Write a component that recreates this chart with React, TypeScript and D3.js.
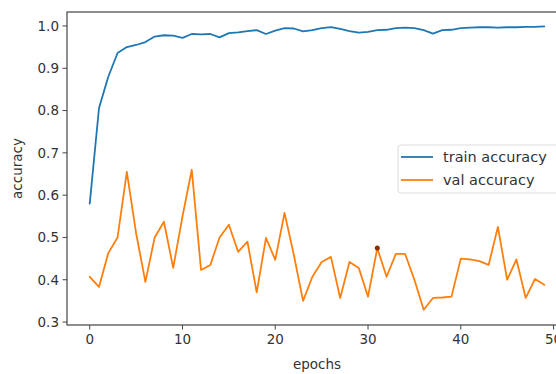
import React from 'react'
import * as d3 from 'd3'

const epochs = d3.range(50)

const trainAcc = [
  0.58, 0.806, 0.88, 0.936, 0.95, 0.955, 0.962, 0.975, 0.978, 0.977,
  0.972, 0.981, 0.98, 0.981, 0.973, 0.983, 0.985, 0.988, 0.99, 0.981,
  0.989, 0.995, 0.994, 0.987, 0.99, 0.995, 0.997, 0.993, 0.988, 0.984,
  0.986, 0.99, 0.991, 0.995, 0.996, 0.995, 0.99, 0.982, 0.99, 0.991,
  0.995, 0.996, 0.997, 0.997, 0.996, 0.997, 0.997, 0.998, 0.998, 0.999,
]

const valAcc = [
  0.407, 0.383, 0.463, 0.5, 0.655, 0.51, 0.395, 0.5, 0.537, 0.428,
  0.55, 0.66, 0.423, 0.435, 0.5, 0.53, 0.466, 0.49, 0.37, 0.499,
  0.447, 0.558, 0.459, 0.35, 0.407, 0.442, 0.454, 0.357, 0.442, 0.428,
  0.36, 0.475, 0.407, 0.461, 0.461, 0.4, 0.329, 0.357, 0.358, 0.36,
  0.45, 0.448, 0.444, 0.435, 0.525, 0.4, 0.448, 0.357, 0.402, 0.388,
]

const highlightEpoch = 31

const xTicks = [0, 10, 20, 30, 40, 50]
const yTicks = [0.3, 0.4, 0.5, 0.6, 0.7, 0.8, 0.9, 1.0]

const seriesNames = ['train accuracy', 'val accuracy']
const seriesColors = ['#1f77b4', '#ff7f0e']

const W = 556
const H = 374
const left = 67
const right = 567
const top = 12
const bottom = 325
const font = 'DejaVu Sans, sans-serif'

export default function App() {
  const x = d3.scaleLinear().domain([-2.45, 51.45]).range([left, right])
  const y = d3.scaleLinear().domain([0.293, 1.033]).range([bottom, top])

  const line = d3.line<number>()
    .x((_, i) => x(epochs[i]))
    .y(d => y(d))

  const series = [trainAcc, valAcc]

  return (
    <svg width={W} height={H} style={{ position: 'absolute', left: 0, top: 0, background: '#fff' }}
      fontFamily={font}>
      <rect width={W} height={H} fill="#fff" />
      {series.map((s, i) => (
        <path key={i} d={line(s) || ''} fill="none" stroke={seriesColors[i]} strokeWidth={1.8}
          strokeLinejoin="round" strokeLinecap="round" />
      ))}
      <circle cx={x(highlightEpoch)} cy={y(valAcc[highlightEpoch])} r={2.5} fill="#8a3000" />

      {/* spines */}
      <rect x={left} y={top} width={right - left} height={bottom - top} fill="none" stroke="#444" strokeWidth={1.2} />

      {/* x axis */}
      {xTicks.map(t => (
        <g key={t} transform={`translate(${x(t)},${bottom})`}>
          <line y2={4.5} stroke="#444" strokeWidth={1} />
          <text y={19} textAnchor="middle" fontSize={13.5} fill="#333">{t}</text>
        </g>
      ))}
      <text x={(left + right) / 2} y={369} textAnchor="middle" fontSize={13.5} fill="#333">epochs</text>

      {/* y axis */}
      {yTicks.map(t => (
        <g key={t} transform={`translate(${left},${y(t)})`}>
          <line x2={-4.5} stroke="#444" strokeWidth={1} />
          <text x={-8} dy="0.36em" textAnchor="end" fontSize={13.5} fill="#333">{t.toFixed(1)}</text>
        </g>
      ))}
      <text transform={`translate(22,${(top + bottom) / 2}) rotate(-90)`} textAnchor="middle"
        fontSize={13.5} fill="#333">accuracy</text>

      {/* legend */}
      <g transform="translate(398,145)">
        <rect width={170} height={48} rx={3} fill="#fff" fillOpacity={0.8} stroke="#ddd" />
        {seriesNames.map((n, i) => (
          <g key={n} transform={`translate(0,${12 + i * 23})`}>
            <line x1={3} x2={35} stroke={seriesColors[i]} strokeWidth={1.8} />
            <text x={45} dy="0.35em" fontSize={14.5} fill="#333">{n}</text>
          </g>
        ))}
      </g>
    </svg>
  )
}
